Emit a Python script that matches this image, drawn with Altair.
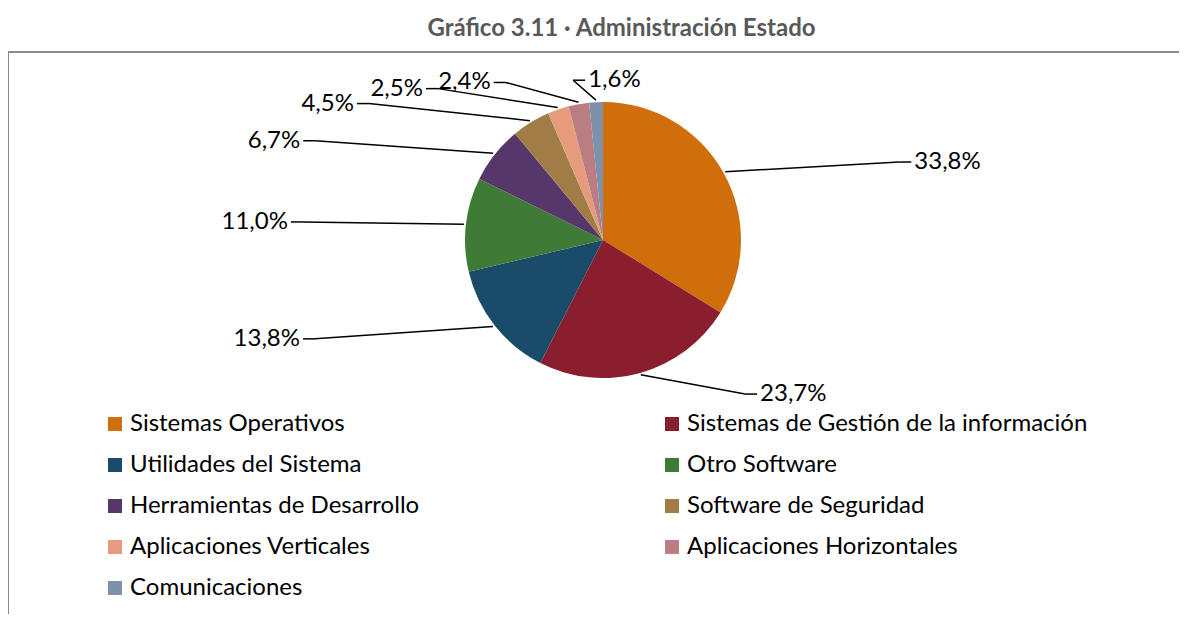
import altair as alt
import pandas as pd

categories = [
    "Sistemas Operativos",
    "Sistemas de Gestión de la información",
    "Utilidades del Sistema",
    "Otro Software",
    "Herramientas de Desarrollo",
    "Software de Seguridad",
    "Aplicaciones Verticales",
    "Aplicaciones Horizontales",
    "Comunicaciones",
]
values = [33.8, 23.7, 13.8, 11.0, 6.7, 4.5, 2.5, 2.4, 1.6]
labels = ["33,8%", "23,7%", "13,8%", "11,0%", "6,7%", "4,5%", "2,5%", "2,4%", "1,6%"]
colors = ["#CF6E0A", "#8A1E2E", "#1A4B69", "#407A37", "#553869",
          "#A07D46", "#E69B7D", "#B97D82", "#7D91AA"]

df = pd.DataFrame({"cat": categories, "value": values, "label": labels,
                   "order": list(range(len(categories)))})

W, H = 1171, 562
CX, CY, R = 595, 188, 138
RXL, SPREAD, RYL = 300, 310, 160
FONT = "Lato"
FS = 24

base = alt.Chart(df)

pie = base.mark_arc(radius=R).encode(
    x=alt.value(CX),
    y=alt.value(CY),
    theta=alt.Theta("value:Q", stack=True),
    color=alt.Color(
        "cat:N",
        sort=categories,
        scale=alt.Scale(domain=categories, range=colors),
        legend=alt.Legend(
            title=None, orient="none", legendX=95, legendY=360, columns=2,
            direction="horizontal",
            columnPadding=240, rowPadding=17, symbolType="square",
            symbolSize=196, symbolStrokeWidth=0, labelFont=FONT,
            labelFontSize=FS, labelColor="#000000", labelLimit=0, labelOffset=3,
        ),
    ),
    order=alt.Order("order:Q"),
)

geo = base.transform_window(
    cum="sum(value)", sort=[alt.SortField("order")], frame=[None, 0]
).transform_calculate(
    mid="(datum.cum - datum.value/2)/100*2*PI",
).transform_calculate(
    s="sin(datum.mid)", c="cos(datum.mid)",
).transform_calculate(
    x1=f"{CX} + {R + 2}*datum.s",
    y1=f"{CY} - {R + 2}*datum.c",
    ax=f"{CX} + {RXL}*datum.s + {SPREAD}*datum.s*(1 - abs(datum.s))",
    ay=f"{CY} - {RYL}*datum.c",
    right="datum.s > -0.1",
).transform_calculate(
    hx="datum.ax + (datum.right ? 12 : -12)",
    tx="datum.ax + (datum.right ? 15 : -15)",
)

line1 = geo.mark_rule(color="#000000", strokeWidth=1.5).encode(
    x=alt.X("x1:Q", scale=None), y=alt.Y("y1:Q", scale=None),
    x2="ax:Q", y2="ay:Q",
)
line2 = geo.mark_rule(color="#000000", strokeWidth=1.5).encode(
    x=alt.X("ax:Q", scale=None), y=alt.Y("ay:Q", scale=None),
    x2="hx:Q", y2="ay:Q",
)
text_r = geo.transform_filter("datum.right").mark_text(
    align="left", baseline="middle", font=FONT, fontSize=FS, color="#000000"
).encode(x=alt.X("tx:Q", scale=None), y=alt.Y("ay:Q", scale=None), text="label:N")
text_l = geo.transform_filter("!datum.right").mark_text(
    align="right", baseline="middle", font=FONT, fontSize=FS, color="#000000"
).encode(x=alt.X("tx:Q", scale=None), y=alt.Y("ay:Q", scale=None), text="label:N")

frame_df = pd.DataFrame({"a": [0]})
frame_left = alt.Chart(frame_df).mark_rule(color="#8C8C8C", strokeWidth=2).encode(
    x=alt.value(0), y=alt.value(0), y2=alt.value(H))
frame_top = alt.Chart(frame_df).mark_rule(color="#8C8C8C", strokeWidth=2).encode(
    x=alt.value(0), x2=alt.value(W), y=alt.value(0))

chart = alt.layer(pie, line1, line2, text_r, text_l, frame_left, frame_top).properties(
    width=W, height=H,
    autosize=alt.AutoSizeParams(type="none"),
    padding={"left": 0, "top": 44, "right": 0, "bottom": 0},
    title=alt.TitleParams(
        "Gráfico 3.11 · Administración Estado", font=FONT, fontSize=24,
        fontWeight="bold", color="#595959", anchor="middle", offset=10, dx=28,
    ),
).configure_view(stroke=None)

chart.save("out.html", embed_options={"renderer": "svg", "actions": False})
